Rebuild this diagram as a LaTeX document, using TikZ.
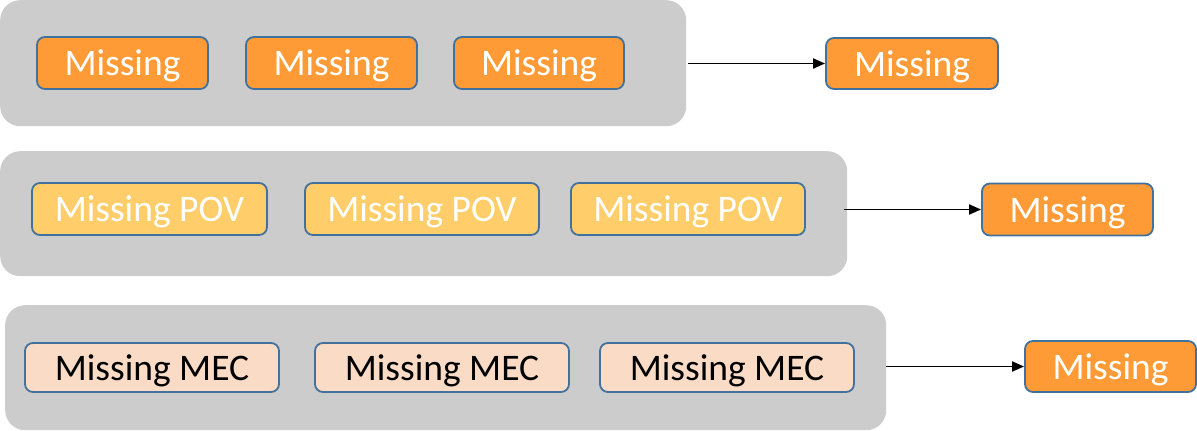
\documentclass[tikz,border=0pt]{standalone}
\usepackage{fontspec}
\setmainfont{Carlito}
\usetikzlibrary{arrows.meta}
\definecolor{grayband}{HTML}{CCCCCC}
\definecolor{orangebox}{HTML}{FF9B36}
\definecolor{yellowbox}{HTML}{FFCD69}
\definecolor{peachbox}{HTML}{FADBC6}
\definecolor{edgeblue}{HTML}{41719C}
\begin{document}
\begin{tikzpicture}[x=1pt,y=-1pt,
  band/.style={fill=grayband,draw=none,rounded corners=20pt},
  tagbox/.style={draw=edgeblue,line width=1.8pt,rounded corners=8pt,inner sep=0pt,
    font=\fontsize{37.5}{42}\selectfont,text depth=0pt},
  orangetag/.style={tagbox,fill=orangebox,text=white},
  yellowtag/.style={tagbox,fill=yellowbox,text=white},
  peachtag/.style={tagbox,fill=peachbox,text=black},
  link/.style={line width=1.8pt,-{Triangle[length=12pt,width=10pt]}}]
\useasboundingbox (0,0) rectangle (1197,431);
% bands
\node[band,minimum width=686pt,minimum height=126pt,anchor=north west] (b1) at (0,0) {};
\node[band,minimum width=847pt,minimum height=125pt,anchor=north west] (b2) at (0,151) {};
\node[band,minimum width=881pt,minimum height=125pt,anchor=north west] (b3) at (5,305) {};
% row 1
\node[orangetag,minimum width=171pt,minimum height=52pt] (a1) at (122.5,63) {Missing};
\node[orangetag,minimum width=171pt,minimum height=52pt] (a2) at (331.5,63) {Missing};
\node[orangetag,minimum width=170pt,minimum height=52pt] (a3) at (539,63) {Missing};
\node[orangetag,minimum width=172pt,minimum height=51pt] (ra) at (912,63.5) {Missing};
\coordinate (sa) at (688,63.5);
\draw[link] (sa) -- (ra.west);
% row 2
\node[yellowtag,minimum width=235pt,minimum height=52pt] (p1) at (149.5,209) {Missing POV};
\node[yellowtag,minimum width=234pt,minimum height=52pt] (p2) at (422,209) {Missing POV};
\node[yellowtag,minimum width=234pt,minimum height=52pt] (p3) at (688,209) {Missing POV};
\node[orangetag,minimum width=171pt,minimum height=52pt] (rp) at (1067.5,209.5) {Missing};
\coordinate (sp) at (844,209.5);
\draw[link] (sp) -- (rp.west);
% row 3
\node[peachtag,minimum width=254pt,minimum height=49pt] (m1) at (152,367.5) {Missing MEC};
\node[peachtag,minimum width=254pt,minimum height=49pt] (m2) at (442,367.5) {Missing MEC};
\node[peachtag,minimum width=254pt,minimum height=49pt] (m3) at (727,367.5) {Missing MEC};
\node[orangetag,minimum width=171pt,minimum height=51pt] (rm) at (1110.5,366.5) {Missing};
\coordinate (sm) at (886,366.5);
\draw[link] (sm) -- (rm.west);
\end{tikzpicture}
\end{document}
